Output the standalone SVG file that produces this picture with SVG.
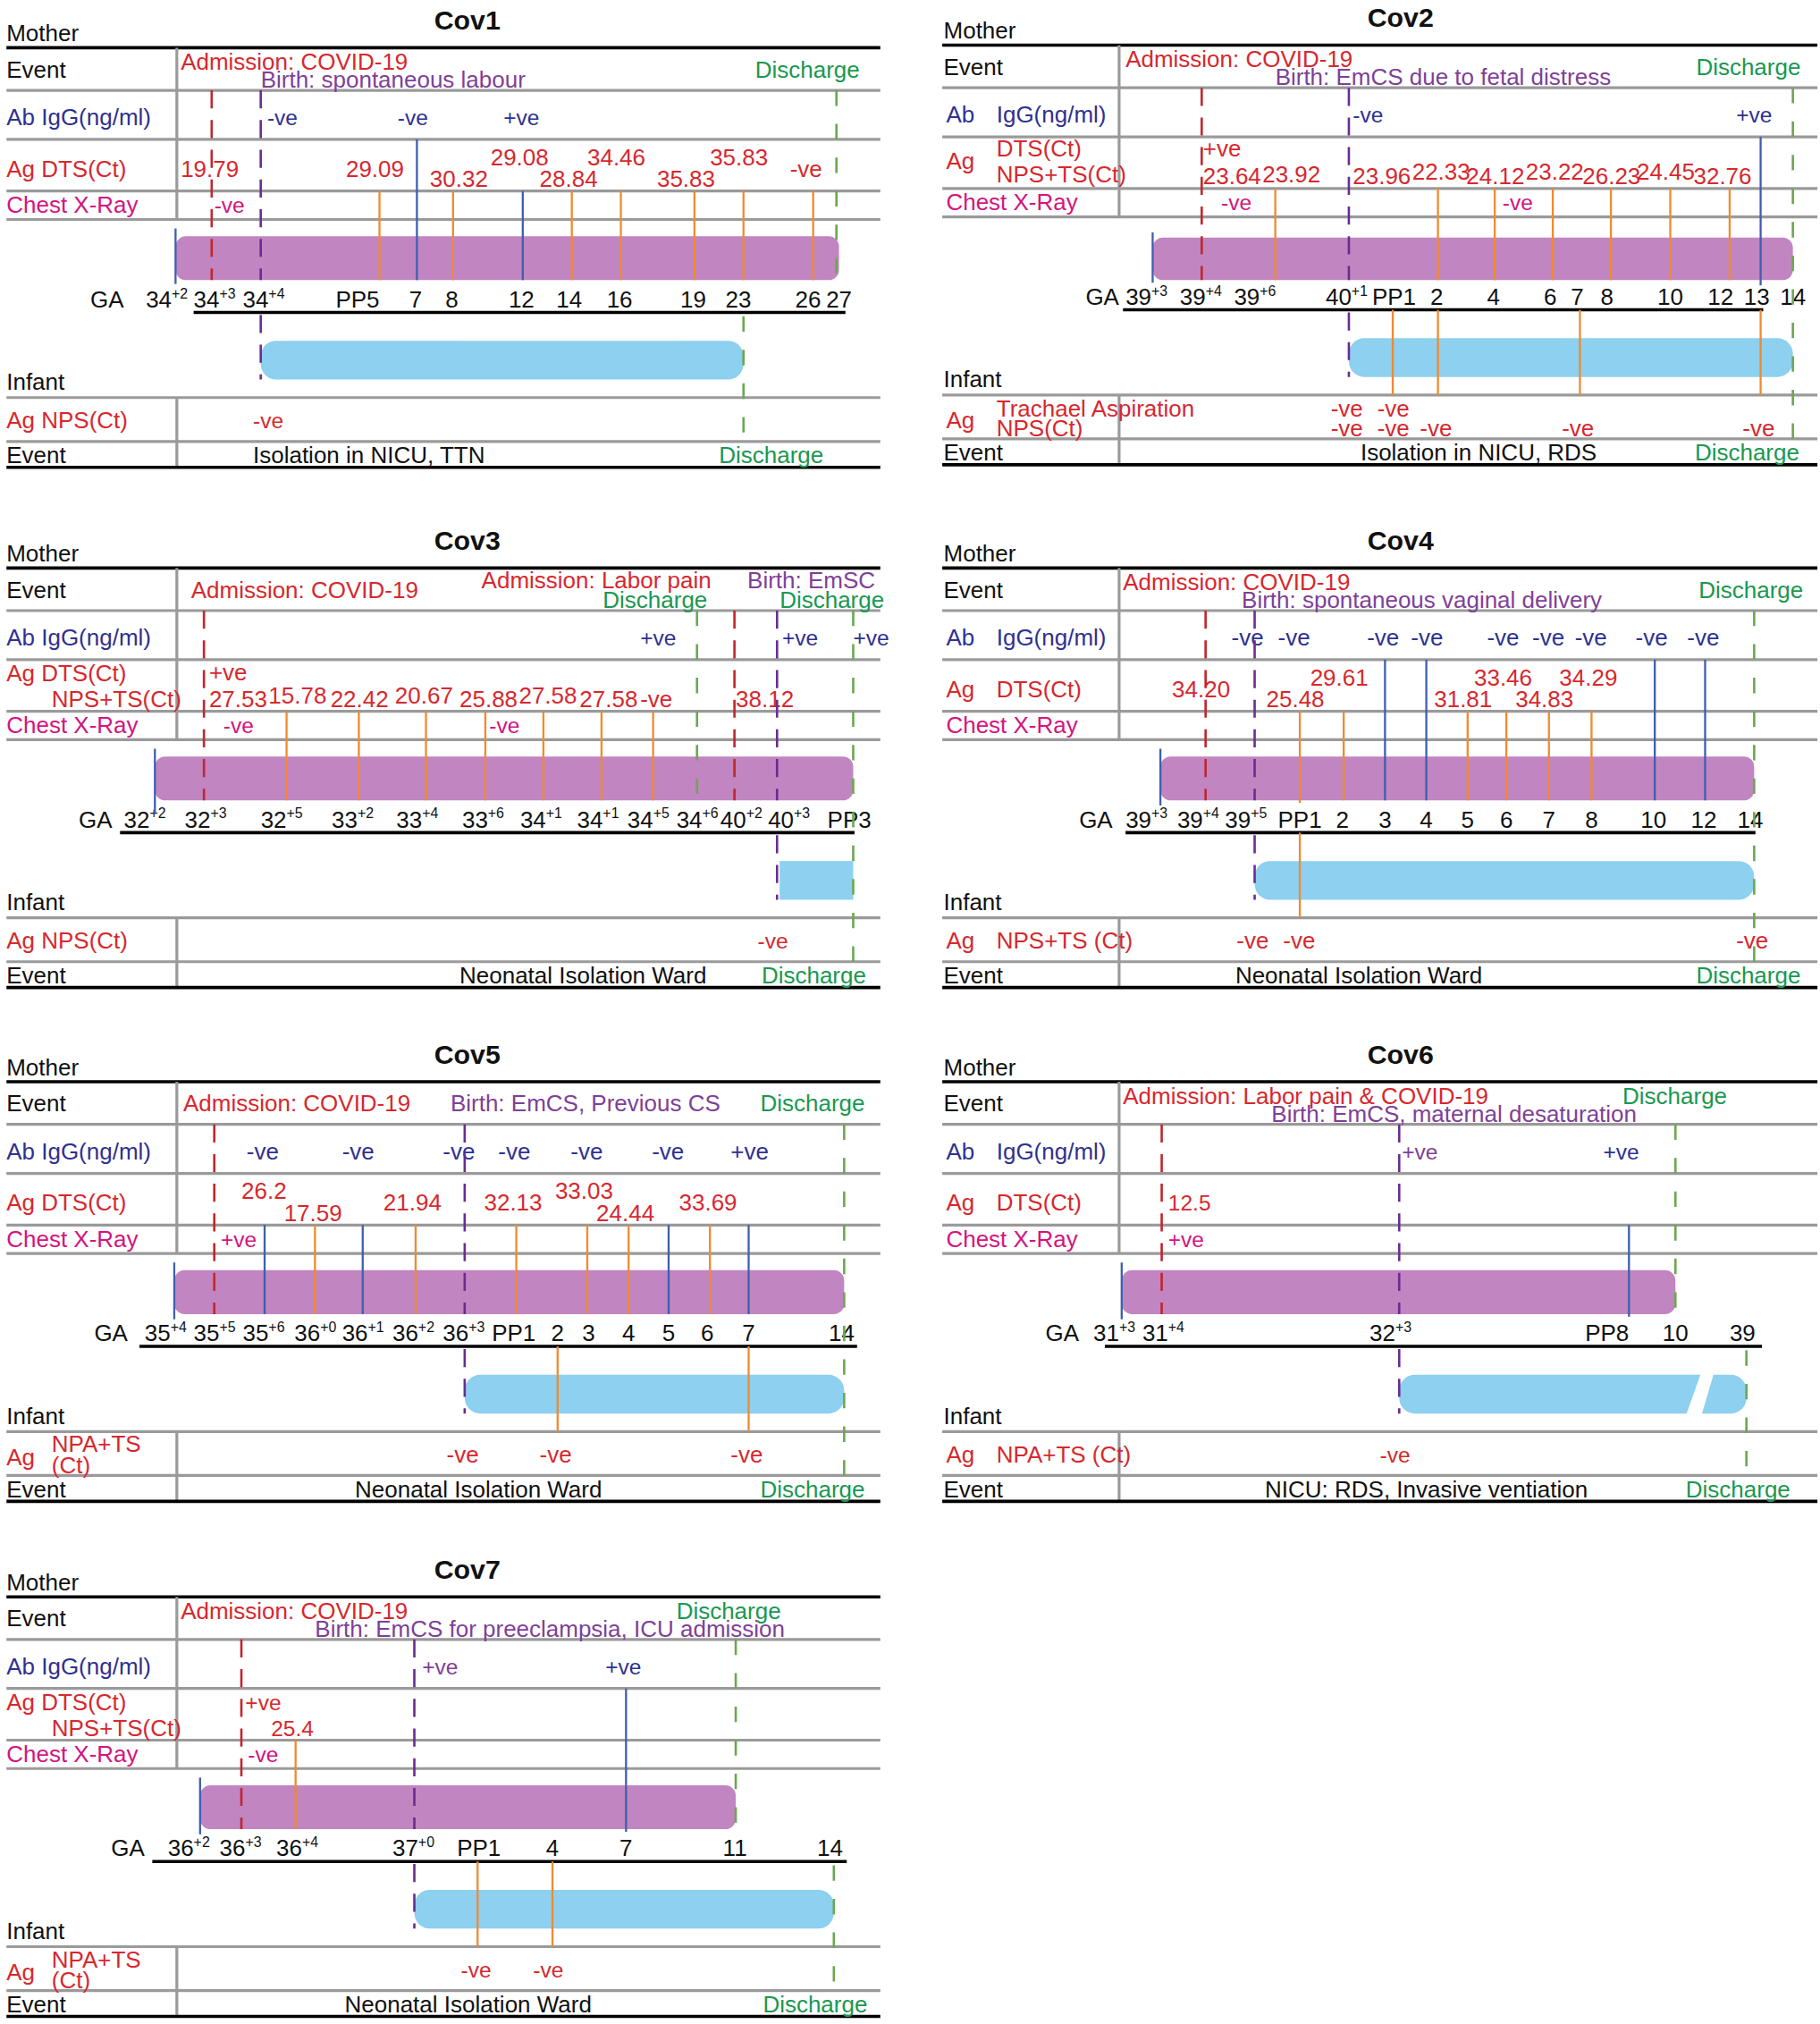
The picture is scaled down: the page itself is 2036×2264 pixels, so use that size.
<svg xmlns="http://www.w3.org/2000/svg" width="2036" height="2264" viewBox="0 0 2036 2264">
<style>
text{font-family:"Liberation Sans",Arial,sans-serif;font-size:18px}
.v{font-size:17px}.s{font-size:15px}.sup{font-size:11px}
.ti{font-weight:bold;font-size:21px;text-anchor:middle}
.k{fill:#111}.r{fill:#d7282e}.n{fill:#2e3192}.m{fill:#d4147f}.p{fill:#7f3f98}.g{fill:#1a9850}
.tl{stroke:#000;stroke-width:2.5}.gl{stroke:#9a9a9a;stroke-width:2.2}
.or{stroke:#f08a30;stroke-width:1.6}.bl{stroke:#3f5fae;stroke-width:1.6}
.ad{stroke:#c1272d;stroke-width:1.8;stroke-dasharray:14 9}
.bd{stroke:#6a2c91;stroke-width:1.8;stroke-dasharray:14 9}
.gd{stroke:#6aa84f;stroke-width:1.8;stroke-dasharray:12 14}
.mb{fill:#c185c1}.ib{fill:#8dd0ef}
</style>
<defs>
<g id="frameL">
<text x="5" y="-5" class="k">Mother</text>
<line x1="5" y1="0" x2="682" y2="0" class="tl"/>
<text x="5" y="23" class="k">Event</text>
<line x1="5" y1="33" x2="682" y2="33" class="gl"/>
<line x1="5" y1="71" x2="682" y2="71" class="gl"/>
<line x1="5" y1="111" x2="682" y2="111" class="gl"/>
<line x1="5" y1="133" x2="682" y2="133" class="gl"/>
<line x1="137" y1="0" x2="137" y2="133" class="gl"/>
<text x="5" y="60" class="n">Ab IgG(ng/ml)</text>
<text x="5" y="128" class="m">Chest X-Ray</text>
<text x="5" y="265" class="k">Infant</text>
<line x1="5" y1="271" x2="682" y2="271" class="gl"/>
<line x1="5" y1="305" x2="682" y2="305" class="gl"/>
<line x1="137" y1="271" x2="137" y2="325" class="gl"/>
<text x="5" y="322" class="k">Event</text>
<line x1="5" y1="325" x2="682" y2="325" class="tl"/>
</g>
<g id="frameR">
<text x="731" y="-5" class="k">Mother</text>
<line x1="730" y1="0" x2="1408" y2="0" class="tl"/>
<text x="731" y="23" class="k">Event</text>
<line x1="730" y1="33" x2="1408" y2="33" class="gl"/>
<line x1="730" y1="71" x2="1408" y2="71" class="gl"/>
<line x1="730" y1="111" x2="1408" y2="111" class="gl"/>
<line x1="730" y1="133" x2="1408" y2="133" class="gl"/>
<line x1="867" y1="0" x2="867" y2="133" class="gl"/>
<text x="733" y="60" class="n">Ab</text><text x="772" y="60" class="n">IgG(ng/ml)</text>
<text x="733" y="128" class="m">Chest X-Ray</text>
<text x="731" y="265" class="k">Infant</text>
<line x1="730" y1="271" x2="1408" y2="271" class="gl"/>
<line x1="730" y1="305" x2="1408" y2="305" class="gl"/>
<line x1="867" y1="271" x2="867" y2="325" class="gl"/>
<text x="731" y="322" class="k">Event</text>
<line x1="730" y1="325" x2="1408" y2="325" class="tl"/>
</g>
</defs>
<g transform="scale(1.44397)">

<!-- Cov1 -->
<g id="cov1" transform="translate(0,37)">
<use href="#frameL"/>
<text x="362" y="-14" class="ti k">Cov1</text>
<rect x="136" y="146" width="514" height="34" rx="8" class="mb"/>
<rect x="202" y="227" width="374" height="30" rx="12" class="ib"/>
<line x1="150" y1="205" x2="655" y2="205" class="tl"/>
<text x="70" y="201" class="k">GA</text>
<text x="140" y="17" class="r">Admission: COVID-19</text>
<text x="202" y="31" class="p">Birth: spontaneous labour</text>
<text x="585" y="23" class="g">Discharge</text>
<text x="207" y="60" class="n v">-ve</text><text x="308" y="60" class="n v">-ve</text><text x="390" y="60" class="n v">+ve</text>
<text x="5" y="100" class="r">Ag DTS(Ct)</text>
<g class="r v"><text x="140" y="100">19.79</text><text x="268" y="100">29.09</text><text x="333" y="108">30.32</text><text x="380" y="91">29.08</text><text x="418" y="108">28.84</text><text x="455" y="91">34.46</text><text x="509" y="108">35.83</text><text x="550" y="91">35.83</text><text x="612" y="100">-ve</text></g>
<text x="166" y="128" class="m v">-ve</text>
<g class="k"><text x="113" y="201">34<tspan class="sup" dy="-7">+2</tspan></text><text x="150" y="201">34<tspan class="sup" dy="-7">+3</tspan></text><text x="188" y="201">34<tspan class="sup" dy="-7">+4</tspan></text><text x="260" y="201">PP5</text><text x="317" y="201">7</text><text x="345" y="201">8</text><text x="394" y="201">12</text><text x="431" y="201">14</text><text x="470" y="201">16</text><text x="527" y="201">19</text><text x="562" y="201">23</text><text x="616" y="201">26</text><text x="640" y="201">27</text></g>
<text x="5" y="295" class="r">Ag NPS(Ct)</text>
<text x="196" y="295" class="r v">-ve</text>
<text x="196" y="322" class="k">Isolation in NICU, TTN</text>
<text x="557" y="322" class="g">Discharge</text>
</g>

<!-- Cov2 -->
<g id="cov2" transform="translate(0,35)">
<use href="#frameR"/>
<text x="1085" y="-14" class="ti k">Cov2</text>
<rect x="893" y="149" width="496" height="33" rx="8" class="mb"/>
<rect x="1045" y="227" width="344" height="30" rx="12" class="ib"/>
<line x1="870" y1="205" x2="1366" y2="205" class="tl"/>
<text x="841" y="201" class="k">GA</text>
<text x="872" y="17" class="r">Admission: COVID-19</text>
<text x="988" y="31" class="p">Birth: EmCS due to fetal distress</text>
<text x="1314" y="23" class="g">Discharge</text>
<text x="1048" y="60" class="n v">-ve</text><text x="1345" y="60" class="n v">+ve</text>
<text x="733" y="96" class="r">Ag</text><text x="772" y="86" class="r">DTS(Ct)</text><text x="772" y="106" class="r">NPS+TS(Ct)</text>
<g class="r s"><text x="932" y="86">+ve</text><text x="932" y="108">23.64</text><text x="978" y="106">23.92</text><text x="1048" y="108">23.96</text><text x="1094" y="104">22.33</text><text x="1136" y="108">24.12</text><text x="1182" y="104">23.22</text><text x="1226" y="108">26.23</text><text x="1268" y="104">24.45</text><text x="1312" y="108">32.76</text></g>
<text x="946" y="128" class="m v">-ve</text><text x="1164" y="128" class="m v">-ve</text>
<g class="k"><text x="872" y="201">39<tspan class="sup" dy="-7">+3</tspan></text><text x="914" y="201">39<tspan class="sup" dy="-7">+4</tspan></text><text x="956" y="201">39<tspan class="sup" dy="-7">+6</tspan></text><text x="1027" y="201">40<tspan class="sup" dy="-7">+1</tspan></text><text x="1063" y="201">PP1</text><text x="1108" y="201">2</text><text x="1152" y="201">4</text><text x="1196" y="201">6</text><text x="1217" y="201">7</text><text x="1240" y="201">8</text><text x="1284" y="201">10</text><text x="1323" y="201">12</text><text x="1351" y="201">13</text><text x="1379" y="201">14</text></g>
<text x="733" y="297" class="r">Ag</text><text x="772" y="288" class="r">Trachael Aspiration</text><text x="772" y="303" class="r">NPS(Ct)</text>
<g class="r s"><text x="1031" y="288">-ve</text><text x="1067" y="288">-ve</text><text x="1031" y="303">-ve</text><text x="1067" y="303">-ve</text><text x="1100" y="303">-ve</text><text x="1210" y="303">-ve</text><text x="1350" y="303">-ve</text></g>
<text x="1054" y="322" class="k">Isolation in NICU, RDS</text>
<text x="1313" y="322" class="g">Discharge</text>
</g>

<!-- Cov3 -->
<g id="cov3" transform="translate(0,440)">
<use href="#frameL"/>
<text x="362" y="-14" class="ti k">Cov3</text>
<rect x="120" y="146" width="541" height="34" rx="8" class="mb"/>
<rect x="604" y="227" width="57" height="30" class="ib"/>
<line x1="93" y1="205" x2="662" y2="205" class="tl"/>
<text x="61" y="201" class="k">GA</text>
<text x="148" y="23" class="r">Admission: COVID-19</text>
<text x="373" y="16" class="r">Admission: Labor pain</text>
<text x="579" y="16" class="p">Birth: EmSC</text>
<text x="467" y="31" class="g">Discharge</text><text x="604" y="31" class="g">Discharge</text>
<text x="496" y="60" class="n v">+ve</text><text x="606" y="60" class="n v">+ve</text><text x="661" y="60" class="n v">+ve</text>
<text x="5" y="88" class="r">Ag DTS(Ct)</text><text x="40" y="108" class="r">NPS+TS(Ct)</text>
<g class="r s"><text x="162" y="87">+ve</text><text x="162" y="108">27.53</text><text x="208" y="105">15.78</text><text x="256" y="108">22.42</text><text x="306" y="105">20.67</text><text x="356" y="108">25.88</text><text x="402" y="105">27.58</text><text x="449" y="108">27.58</text><text x="496" y="108">-ve</text><text x="570" y="108">38.12</text></g>
<text x="173" y="128" class="m v">-ve</text><text x="379" y="128" class="m v">-ve</text>
<g class="k"><text x="96" y="201">32<tspan class="sup" dy="-7">+2</tspan></text><text x="143" y="201">32<tspan class="sup" dy="-7">+3</tspan></text><text x="202" y="201">32<tspan class="sup" dy="-7">+5</tspan></text><text x="257" y="201">33<tspan class="sup" dy="-7">+2</tspan></text><text x="307" y="201">33<tspan class="sup" dy="-7">+4</tspan></text><text x="358" y="201">33<tspan class="sup" dy="-7">+6</tspan></text><text x="403" y="201">34<tspan class="sup" dy="-7">+1</tspan></text><text x="447" y="201">34<tspan class="sup" dy="-7">+1</tspan></text><text x="486" y="201">34<tspan class="sup" dy="-7">+5</tspan></text><text x="524" y="201">34<tspan class="sup" dy="-7">+6</tspan></text><text x="558" y="201">40<tspan class="sup" dy="-7">+2</tspan></text><text x="595" y="201">40<tspan class="sup" dy="-7">+3</tspan></text><text x="641" y="201">PP3</text></g>
<text x="5" y="295" class="r">Ag NPS(Ct)</text>
<text x="587" y="295" class="r v">-ve</text>
<text x="356" y="322" class="k">Neonatal Isolation Ward</text>
<text x="590" y="322" class="g">Discharge</text>
</g>

<!-- Cov4 -->
<g id="cov4" transform="translate(0,440)">
<use href="#frameR"/>
<text x="1085" y="-14" class="ti k">Cov4</text>
<rect x="899" y="146" width="460" height="34" rx="8" class="mb"/>
<rect x="972" y="227" width="387" height="30" rx="12" class="ib"/>
<line x1="872" y1="205" x2="1360" y2="205" class="tl"/>
<text x="836" y="201" class="k">GA</text>
<text x="870" y="17" class="r">Admission: COVID-19</text>
<text x="962" y="31" class="p">Birth: spontaneous vaginal delivery</text>
<text x="1316" y="23" class="g">Discharge</text>
<g class="n v"><text x="954" y="60">-ve</text><text x="990" y="60">-ve</text><text x="1059" y="60">-ve</text><text x="1093" y="60">-ve</text><text x="1152" y="60">-ve</text><text x="1187" y="60">-ve</text><text x="1220" y="60">-ve</text><text x="1267" y="60">-ve</text><text x="1307" y="60">-ve</text></g>
<text x="733" y="100" class="r">Ag</text><text x="772" y="100" class="r">DTS(Ct)</text>
<g class="r v"><text x="908" y="100">34.20</text><text x="1015" y="91">29.61</text><text x="981" y="108">25.48</text><text x="1142" y="91">33.46</text><text x="1208" y="91">34.29</text><text x="1111" y="108">31.81</text><text x="1174" y="108">34.83</text></g>
<g class="k"><text x="872" y="201">39<tspan class="sup" dy="-7">+3</tspan></text><text x="912" y="201">39<tspan class="sup" dy="-7">+4</tspan></text><text x="949" y="201">39<tspan class="sup" dy="-7">+5</tspan></text><text x="990" y="201">PP1</text><text x="1035" y="201">2</text><text x="1068" y="201">3</text><text x="1100" y="201">4</text><text x="1132" y="201">5</text><text x="1162" y="201">6</text><text x="1195" y="201">7</text><text x="1228" y="201">8</text><text x="1271" y="201">10</text><text x="1310" y="201">12</text><text x="1346" y="201">14</text></g>
<text x="733" y="295" class="r">Ag</text><text x="772" y="295" class="r">NPS+TS (Ct)</text>
<g class="r v"><text x="958" y="295">-ve</text><text x="994" y="295">-ve</text><text x="1345" y="295">-ve</text></g>
<text x="957" y="322" class="k">Neonatal Isolation Ward</text>
<text x="1314" y="322" class="g">Discharge</text>
</g>

<!-- Cov5 -->
<g id="cov5" transform="translate(0,838)">
<use href="#frameL"/>
<text x="362" y="-14" class="ti k">Cov5</text>
<rect x="135" y="146" width="519" height="34" rx="8" class="mb"/>
<rect x="360" y="227" width="294" height="30" rx="12" class="ib"/>
<line x1="108" y1="205" x2="664" y2="205" class="tl"/>
<text x="73" y="201" class="k">GA</text>
<text x="142" y="23" class="r">Admission: COVID-19</text>
<text x="349" y="23" class="p">Birth: EmCS, Previous CS</text>
<text x="589" y="23" class="g">Discharge</text>
<g class="n v"><text x="191" y="60">-ve</text><text x="265" y="60">-ve</text><text x="343" y="60">-ve</text><text x="386" y="60">-ve</text><text x="442" y="60">-ve</text><text x="505" y="60">-ve</text><text x="566" y="60">+ve</text></g>
<text x="5" y="100" class="r">Ag DTS(Ct)</text>
<g class="r v"><text x="187" y="91">26.2</text><text x="220" y="108">17.59</text><text x="297" y="100">21.94</text><text x="375" y="100">32.13</text><text x="430" y="91">33.03</text><text x="462" y="108">24.44</text><text x="526" y="100">33.69</text></g>
<text x="171" y="128" class="m v">+ve</text>
<g class="k"><text x="112" y="201">35<tspan class="sup" dy="-7">+4</tspan></text><text x="150" y="201">35<tspan class="sup" dy="-7">+5</tspan></text><text x="188" y="201">35<tspan class="sup" dy="-7">+6</tspan></text><text x="228" y="201">36<tspan class="sup" dy="-7">+0</tspan></text><text x="265" y="201">36<tspan class="sup" dy="-7">+1</tspan></text><text x="304" y="201">36<tspan class="sup" dy="-7">+2</tspan></text><text x="343" y="201">36<tspan class="sup" dy="-7">+3</tspan></text><text x="381" y="201">PP1</text><text x="427" y="201">2</text><text x="451" y="201">3</text><text x="482" y="201">4</text><text x="513" y="201">5</text><text x="543" y="201">6</text><text x="575" y="201">7</text><text x="642" y="201">14</text></g>
<text x="5" y="297" class="r">Ag</text><text x="40" y="287" class="r">NPA+TS</text><text x="40" y="303" class="r">(Ct)</text>
<g class="r v"><text x="346" y="295">-ve</text><text x="418" y="295">-ve</text><text x="566" y="295">-ve</text></g>
<text x="275" y="322" class="k">Neonatal Isolation Ward</text>
<text x="589" y="322" class="g">Discharge</text>
</g>

<!-- Cov6 -->
<g id="cov6" transform="translate(0,838)">
<use href="#frameR"/>
<text x="1085" y="-14" class="ti k">Cov6</text>
<rect x="869" y="146" width="429" height="34" rx="8" class="mb"/>
<rect x="1084" y="227" width="269" height="30" rx="12" class="ib"/>
<polygon points="1318,225 1328,225 1318,259 1306,259" fill="#fff"/>
<line x1="856" y1="205" x2="1365" y2="205" class="tl"/>
<text x="810" y="201" class="k">GA</text>
<text x="870" y="17" class="r">Admission: Labor pain &amp; COVID-19</text>
<text x="985" y="31" class="p">Birth: EmCS, maternal desaturation</text>
<text x="1257" y="17" class="g">Discharge</text>
<text x="1086" y="60" class="p v">+ve</text><text x="1242" y="60" class="n v">+ve</text>
<text x="733" y="100" class="r">Ag</text><text x="772" y="100" class="r">DTS(Ct)</text>
<text x="905" y="100" class="r v">12.5</text>
<text x="905" y="128" class="m v">+ve</text>
<g class="k"><text x="847" y="201">31<tspan class="sup" dy="-7">+3</tspan></text><text x="885" y="201">31<tspan class="sup" dy="-7">+4</tspan></text><text x="1061" y="201">32<tspan class="sup" dy="-7">+3</tspan></text><text x="1228" y="201">PP8</text><text x="1288" y="201">10</text><text x="1340" y="201">39</text></g>
<text x="733" y="295" class="r">Ag</text><text x="772" y="295" class="r">NPA+TS (Ct)</text>
<text x="1069" y="295" class="r v">-ve</text>
<text x="980" y="322" class="k">NICU: RDS, Invasive ventiation</text>
<text x="1306" y="322" class="g">Discharge</text>
</g>

<!-- Cov7 -->
<g id="cov7" transform="translate(0,1237)">
<use href="#frameL"/>
<text x="362" y="-14" class="ti k">Cov7</text>
<rect x="155" y="146" width="415" height="34" rx="8" class="mb"/>
<rect x="321" y="227" width="325" height="30" rx="12" class="ib"/>
<line x1="118" y1="205" x2="656" y2="205" class="tl"/>
<text x="86" y="201" class="k">GA</text>
<text x="140" y="17" class="r">Admission: COVID-19</text>
<text x="524" y="17" class="g">Discharge</text>
<text x="244" y="31" class="p">Birth: EmCS for preeclampsia, ICU admission</text>
<text x="327" y="60" class="p v">+ve</text><text x="469" y="60" class="n v">+ve</text>
<text x="5" y="88" class="r">Ag DTS(Ct)</text><text x="40" y="108" class="r">NPS+TS(Ct)</text>
<text x="190" y="88" class="r v">+ve</text><text x="210" y="108" class="r v">25.4</text>
<text x="192" y="128" class="m v">-ve</text>
<g class="k"><text x="130" y="201">36<tspan class="sup" dy="-7">+2</tspan></text><text x="170" y="201">36<tspan class="sup" dy="-7">+3</tspan></text><text x="214" y="201">36<tspan class="sup" dy="-7">+4</tspan></text><text x="304" y="201">37<tspan class="sup" dy="-7">+0</tspan></text><text x="354" y="201">PP1</text><text x="423" y="201">4</text><text x="480" y="201">7</text><text x="560" y="201">11</text><text x="633" y="201">14</text></g>
<text x="5" y="297" class="r">Ag</text><text x="40" y="287" class="r">NPA+TS</text><text x="40" y="303" class="r">(Ct)</text>
<text x="357" y="295" class="r v">-ve</text><text x="413" y="295" class="r v">-ve</text>
<text x="267" y="322" class="k">Neonatal Isolation Ward</text>
<text x="591" y="322" class="g">Discharge</text>
</g>

<g id="connectors">
<!-- Cov1 -->
<g transform="translate(0,37)">
<line x1="136" y1="140" x2="136" y2="183" class="bl"/>
<line x1="164" y1="33" x2="164" y2="180" class="ad"/>
<line x1="202" y1="33" x2="202" y2="180" class="bd"/><line x1="202" y1="207" x2="202" y2="257" class="bd"/>
<line x1="323" y1="71" x2="323" y2="180" class="bl"/><line x1="405" y1="111" x2="405" y2="180" class="bl"/>
<g class="or"><line x1="294" y1="111" x2="294" y2="180"/><line x1="351" y1="111" x2="351" y2="180"/><line x1="443" y1="111" x2="443" y2="180"/><line x1="481" y1="111" x2="481" y2="180"/><line x1="538" y1="111" x2="538" y2="180"/><line x1="576" y1="111" x2="576" y2="180"/><line x1="630" y1="111" x2="630" y2="180"/></g>
<line x1="648" y1="33" x2="648" y2="180" class="gd"/>
<line x1="576" y1="208" x2="576" y2="305" class="gd"/>
</g>
<!-- Cov2 -->
<g transform="translate(0,35)">
<line x1="893" y1="145" x2="893" y2="184" class="bl"/>
<line x1="931" y1="33" x2="931" y2="182" class="ad"/>
<line x1="1045" y1="33" x2="1045" y2="182" class="bd"/><line x1="1045" y1="207" x2="1045" y2="257" class="bd"/>
<g class="or"><line x1="988" y1="111" x2="988" y2="182"/><line x1="1114" y1="111" x2="1114" y2="182"/><line x1="1158" y1="111" x2="1158" y2="182"/><line x1="1203" y1="111" x2="1203" y2="182"/><line x1="1248" y1="111" x2="1248" y2="182"/><line x1="1294" y1="111" x2="1294" y2="182"/><line x1="1340" y1="111" x2="1340" y2="182"/>
<line x1="1079" y1="205" x2="1079" y2="271"/><line x1="1114" y1="205" x2="1114" y2="271"/><line x1="1224" y1="205" x2="1224" y2="271"/><line x1="1364" y1="205" x2="1364" y2="271"/></g>
<line x1="1364" y1="71" x2="1364" y2="186" class="bl"/>
<line x1="1389" y1="33" x2="1389" y2="305" class="gd"/>
</g>
<!-- Cov3 -->
<g transform="translate(0,440)">
<line x1="120" y1="140" x2="120" y2="190" class="bl"/>
<line x1="158" y1="33" x2="158" y2="180" class="ad"/>
<line x1="540" y1="33" x2="540" y2="180" class="gd"/>
<line x1="569" y1="33" x2="569" y2="180" class="ad"/>
<line x1="602" y1="33" x2="602" y2="180" class="bd"/><line x1="602" y1="207" x2="602" y2="257" class="bd"/>
<line x1="661" y1="33" x2="661" y2="305" class="gd"/>
<g class="or"><line x1="222" y1="111" x2="222" y2="180"/><line x1="278" y1="111" x2="278" y2="180"/><line x1="330" y1="111" x2="330" y2="180"/><line x1="376" y1="111" x2="376" y2="180"/><line x1="421" y1="111" x2="421" y2="180"/><line x1="466" y1="111" x2="466" y2="180"/><line x1="506" y1="111" x2="506" y2="180"/></g>
</g>
<!-- Cov4 -->
<g transform="translate(0,440)">
<line x1="899" y1="140" x2="899" y2="184" class="bl"/>
<line x1="934" y1="33" x2="934" y2="180" class="ad"/>
<line x1="972" y1="33" x2="972" y2="180" class="bd"/><line x1="972" y1="207" x2="972" y2="257" class="bd"/>
<g class="or"><line x1="1007" y1="111" x2="1007" y2="182"/><line x1="1007" y1="205" x2="1007" y2="271"/><line x1="1041" y1="111" x2="1041" y2="180"/><line x1="1137" y1="111" x2="1137" y2="180"/><line x1="1167" y1="111" x2="1167" y2="180"/><line x1="1200" y1="111" x2="1200" y2="180"/><line x1="1233" y1="111" x2="1233" y2="180"/></g>
<g class="bl"><line x1="1073" y1="71" x2="1073" y2="180"/><line x1="1105" y1="71" x2="1105" y2="180"/><line x1="1282" y1="71" x2="1282" y2="180"/><line x1="1321" y1="71" x2="1321" y2="180"/></g>
<line x1="1359" y1="33" x2="1359" y2="305" class="gd"/>
</g>
<!-- Cov5 -->
<g transform="translate(0,838)">
<line x1="135" y1="140" x2="135" y2="184" class="bl"/>
<line x1="166" y1="33" x2="166" y2="180" class="ad"/>
<line x1="360" y1="33" x2="360" y2="180" class="bd"/><line x1="360" y1="207" x2="360" y2="257" class="bd"/>
<g class="bl"><line x1="205" y1="111" x2="205" y2="180"/><line x1="281" y1="111" x2="281" y2="180"/><line x1="518" y1="111" x2="518" y2="180"/><line x1="580" y1="111" x2="580" y2="180"/></g>
<g class="or"><line x1="244" y1="111" x2="244" y2="180"/><line x1="322" y1="111" x2="322" y2="180"/><line x1="400" y1="111" x2="400" y2="180"/><line x1="455" y1="111" x2="455" y2="180"/><line x1="487" y1="111" x2="487" y2="180"/><line x1="550" y1="111" x2="550" y2="180"/><line x1="432" y1="205" x2="432" y2="271"/><line x1="580" y1="205" x2="580" y2="271"/></g>
<line x1="654" y1="33" x2="654" y2="305" class="gd"/>
</g>
<!-- Cov6 -->
<g transform="translate(0,838)">
<line x1="869" y1="140" x2="869" y2="184" class="bl"/>
<line x1="900" y1="33" x2="900" y2="180" class="ad"/>
<line x1="1084" y1="33" x2="1084" y2="180" class="bd"/><line x1="1084" y1="207" x2="1084" y2="257" class="bd"/>
<line x1="1262" y1="111" x2="1262" y2="182" class="bl"/>
<line x1="1298" y1="33" x2="1298" y2="180" class="gd"/>
<line x1="1353" y1="208" x2="1353" y2="305" class="gd"/>
</g>
<!-- Cov7 -->
<g transform="translate(0,1237)">
<line x1="155" y1="140" x2="155" y2="184" class="bl"/>
<line x1="187" y1="33" x2="187" y2="180" class="ad"/>
<line x1="321" y1="33" x2="321" y2="180" class="bd"/><line x1="321" y1="207" x2="321" y2="257" class="bd"/>
<line x1="229" y1="111" x2="229" y2="180" class="or"/>
<line x1="370" y1="205" x2="370" y2="271" class="or"/><line x1="428" y1="205" x2="428" y2="271" class="or"/>
<line x1="485" y1="71" x2="485" y2="182" class="bl"/>
<line x1="570" y1="33" x2="570" y2="180" class="gd"/>
<line x1="646" y1="208" x2="646" y2="305" class="gd"/>
</g>
</g>
</g>
</svg>
